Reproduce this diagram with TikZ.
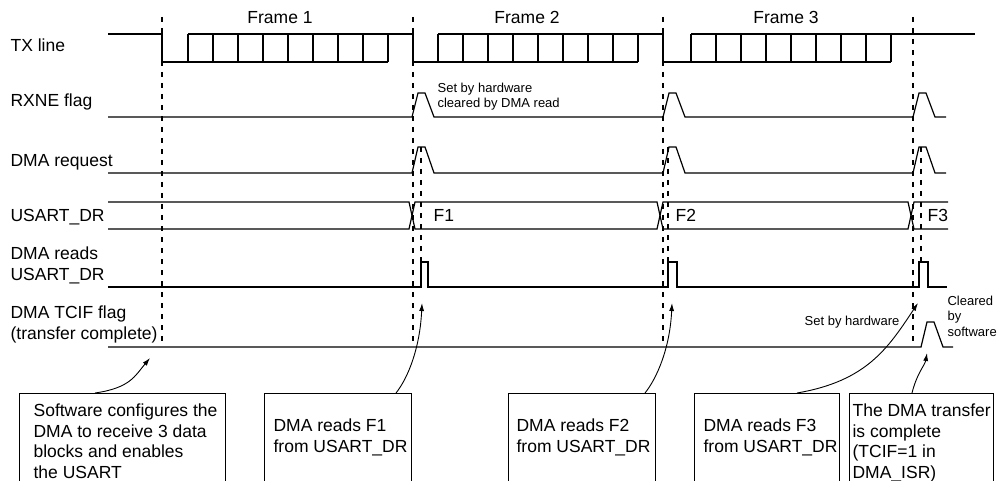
\documentclass[tikz,border=0pt]{standalone}
\usepackage{fontspec}
\setmainfont{Liberation Sans}
\usetikzlibrary{arrows.meta}
\begin{document}
\begin{tikzpicture}[x=1pt,y=-1pt,line width=1.2pt]
            \tikzset{
                signame/.style={inner sep=0pt,align=left,font=\fontsize{17.5}{20.5}\selectfont},
                smalltext/.style={inner sep=0pt,align=left,font=\fontsize{13}{15.6}\selectfont},
                notebox/.style={draw,anchor=north west,inner sep=0pt,minimum height=120},
                guide/.style={dash pattern=on 5pt off 6pt},
                pointer/.style={line width=0.9pt,-{Latex[length=8pt,width=5pt]}},}
            \clip (0,0) rectangle (998,481);
            \def\bump#1{-- ++(6,-#1) -- ++(7,0) -- ++(9,#1)}
            % signal names
            \node[signame,anchor=base west] (tx) at (10,51.3) {TX line};
            \node[signame,anchor=base west] (rxne) at (10,106.3) {RXNE flag};
            \node[signame,anchor=base west] (dmareq) at (10,166.3) {DMA request};
            \node[signame,anchor=base west] (usart) at (10,221.3) {USART\_DR};
            \node[signame,anchor=north west] (dmard) at (10,246.5) {DMA reads\\USART\_DR};
            \node[signame,anchor=north west] (tcif) at (10,305.5) {DMA TCIF flag\\(transfer complete)};
            \node[signame,anchor=base] (fr1) at (280,23.3) {Frame 1};
            \node[signame,anchor=base] (fr2) at (527,23.3) {Frame 2};
            \node[signame,anchor=base] (fr3) at (786,23.3) {Frame 3};
            % frame borders
            \foreach \x in {162,413,663,913} \draw[guide] (\x,17) -- (\x,345);
            \foreach \x in {421,668,921} \draw[guide] (\x,147) -- (\x,262);
            % TX line
            \draw (108,34) -- (162,34) -- (162,62) -- (388,62);
            \draw (188,34) -- (413,34) -- (413,62) -- (638,62);
            \draw (438,34) -- (663,34) -- (663,62) -- (891,62);
            \draw (691,34) -- (975,34);
            \foreach \s in {188,438,691}
                \foreach \k in {0,...,8} \draw (\s+25*\k,34) -- (\s+25*\k,62);
            % RXNE and DMA request
            \draw (108,117) -- (412,117) \bump{24} -- (663,117) \bump{24} -- (913,117) \bump{24} -- (946,117);
            \draw (108,173) -- (412,173) \bump{26} -- (663,173) \bump{26} -- (913,173) \bump{26} -- (946,173);
            \node[smalltext,anchor=north west] (rxnenote) at (437,82) {Set by hardware\\cleared by DMA read};
            % USART_DR
            \draw (108,202) -- (409,202) -- (415,229) -- (657,229) -- (663,202) -- (908,202) -- (914,229) -- (948,229);
            \draw (108,229) -- (409,229) -- (415,202) -- (657,202) -- (663,229) -- (908,229) -- (914,202) -- (948,202);
            \node[signame,anchor=base west] (d1) at (433,221.3) {F1};
            \node[signame,anchor=base west] (d2) at (675,221.3) {F2};
            \node[signame,anchor=base west] (d3) at (927,221.3) {F3};
            % DMA reads USART_DR
            \draw (108,287) -- (421,287) -- (421,262) -- (428,262) -- (428,287)
                -- (668,287) -- (668,262) -- (677,262) -- (677,287)
                -- (919,287) -- (919,262) -- (928,262) -- (928,287) -- (947,287);
            % TCIF
            \draw (108,347) -- (921,347) \bump{25} -- (953,347);
            \node[smalltext,anchor=base east] (sethw) at (900,325.7) {Set by hardware};
            \node[smalltext,anchor=north west] (clrsw) at (947,295.2) {Cleared\\by\\software};
            % notes
            \node[notebox,minimum width=206] (cfg) at (19,393) {};
            \node[notebox,minimum width=147] (rd1) at (264,393) {};
            \node[notebox,minimum width=147] (rd2) at (508,393) {};
            \node[notebox,minimum width=145] (rd3) at (694,393) {};
            \node[notebox,minimum width=144] (done) at (849,393) {};
            \node[signame,anchor=north west] (cfgtxt) at (33,403.5) {Software configures the\\DMA to receive 3 data\\blocks and enables\\the USART};
            \node[signame,anchor=north west] (rd1txt) at (273,418.5) {DMA reads F1\\from USART\_DR};
            \node[signame,anchor=north west] (rd2txt) at (516,418.5) {DMA reads F2\\from USART\_DR};
            \node[signame,anchor=north west] (rd3txt) at (703,418.5) {DMA reads F3\\from USART\_DR};
            \node[signame,anchor=north west] (donetxt) at (852,403.5) {The DMA transfer\\is complete\\(TCIF=1 in\\DMA\_ISR)};
            % arrows
            \coordinate (en) at (150,358);
            \coordinate (got1) at (422,303);
            \coordinate (got2) at (672,303);
            \coordinate (got3) at (918,303);
            \coordinate (tc) at (927,353);
            \draw[pointer] ([xshift=76pt]cfg.north west) .. controls +(35,-5) and +(-15,18) .. (en);
            \draw[pointer] ([xshift=132pt]rd1.north west) .. controls +(12,-15) and +(-2,45) .. (got1);
            \draw[pointer] ([xshift=137pt]rd2.north west) .. controls +(12,-15) and +(-2,45) .. (got2);
            \draw[pointer] ([xshift=103pt]rd3.north west) .. controls +(70,-12) and +(-30,45) .. (got3);
            \draw[pointer] ([xshift=63pt]done.north west) .. controls +(5,-20) and +(-2,12) .. (tc);
        \end{tikzpicture}
\end{document}
